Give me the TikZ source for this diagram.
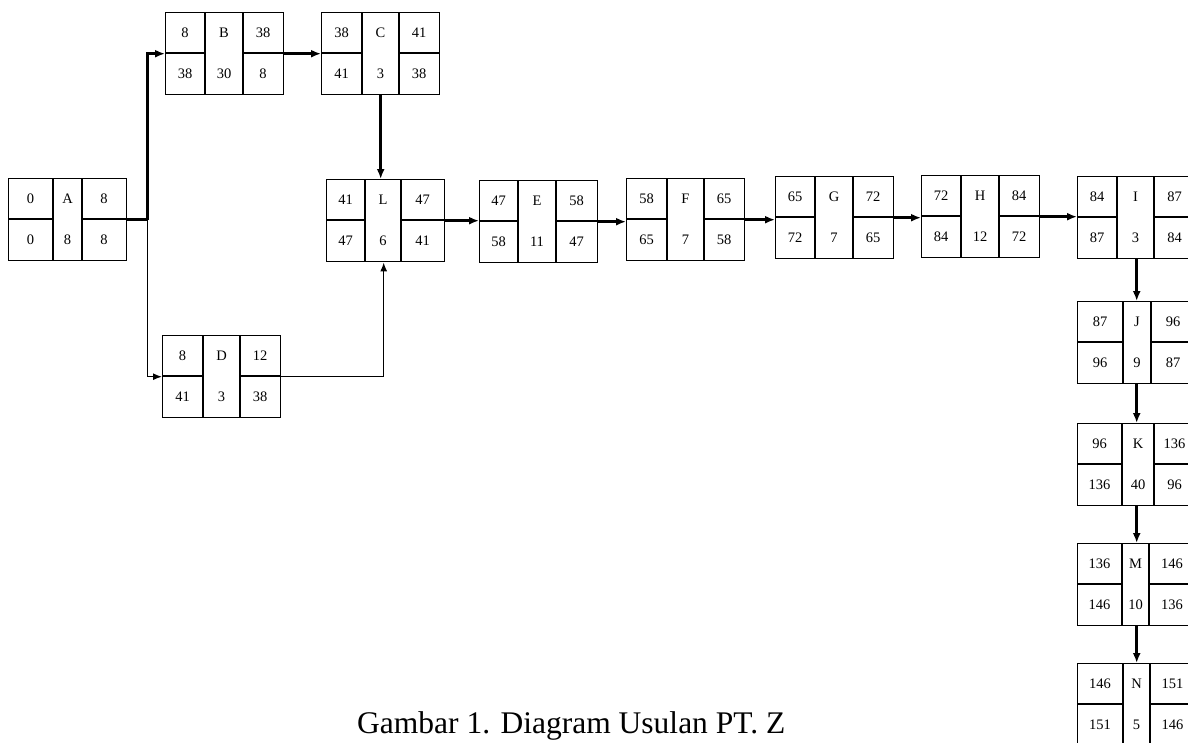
\documentclass[tikz,border=0pt]{standalone}
\usepackage{fontspec}
\setmainfont{Liberation Serif}
\usetikzlibrary{arrows.meta,calc}
\def\bw{118}\def\bh{82}\def\dA{40}\def\dB{77}
\tikzset{
  box/.style={draw, line width=1.4pt, anchor=north west, minimum width=\bw pt, minimum height=\bh pt, inner sep=0pt},
  cell/.style={line width=1.3pt},
  lab/.style={font=\fontsize{14.5}{16}\selectfont, inner sep=0pt},
  crit/.style={line width=2.8pt, -{Latex[length=10pt,width=8pt]}},
  critline/.style={line width=2.8pt},
  noncrit/.style={line width=1.3pt, -{Latex[length=9pt,width=7pt]}},
}
\newcommand\actbox[8]{%
\begin{scope}[shift={(#2)}]
\node[box] (#1) at (0,0) {};
\draw[cell] (\dA,0) -- (\dA,\bh) (\dB,0) -- (\dB,\bh) (0,\bh/2) -- (\dA,\bh/2) (\dB,\bh/2) -- (\bw,\bh/2);
\node[lab] (#1-es) at (\dA/2,\bh/4) {#3};
\node[lab] (#1-n) at ({(\dA+\dB)/2},\bh/4) {#4};
\node[lab] (#1-ef) at ({(\dB+\bw)/2},\bh/4) {#5};
\node[lab] (#1-ls) at (\dA/2,3*\bh/4) {#6};
\node[lab] (#1-d) at ({(\dA+\dB)/2},3*\bh/4) {#7};
\node[lab] (#1-lf) at ({(\dB+\bw)/2},3*\bh/4) {#8};
\end{scope}}
\begin{document}
\begin{tikzpicture}[x=1pt,y=-1pt]
\useasboundingbox[fill=white] (0,0) rectangle (1188,742);
\def\dA{45}\def\dB{74}
\actbox{A}{8,178}{0}{A}{8}{0}{8}{8}
\def\dA{40}\def\dB{78}
\actbox{B}{165,12}{8}{B}{38}{38}{30}{8}
\def\dA{41}\def\dB{78}
\actbox{C}{321,12}{38}{C}{41}{41}{3}{38}
\actbox{D}{162,335}{8}{D}{12}{41}{3}{38}
\def\dA{39}\def\dB{75}
\actbox{L}{326,179}{41}{L}{47}{47}{6}{41}
\def\dA{39}\def\dB{77}
\actbox{E}{479,180}{47}{E}{58}{58}{11}{47}
\def\dA{41}\def\dB{78}
\actbox{F}{626,178}{58}{F}{65}{65}{7}{58}
\def\dA{40}\def\dB{78}
\actbox{G}{775,176}{65}{G}{72}{72}{7}{65}
\actbox{H}{921,175}{72}{H}{84}{84}{12}{72}
\def\dA{40}\def\dB{77}
\actbox{I}{1077,176}{84}{I}{87}{87}{3}{84}
\def\dA{46}\def\dB{74}
\actbox{J}{1077,301}{87}{J}{96}{96}{9}{87}
\def\dA{45}\def\dB{77}
\actbox{K}{1077,423}{96}{K}{136}{136}{40}{96}
\def\dA{45}\def\dB{72}
\actbox{M}{1077,543}{136}{M}{146}{146}{10}{136}
\def\dA{46}\def\dB{73}
\actbox{N}{1077,663}{146}{N}{151}{151}{5}{146}
% connectors
\coordinate (split) at ($(A.east)+(20,0)$);
\draw[critline] (A.east) -- (split);
\draw[crit] (split) |- (B.west);
\draw[noncrit] (split) |- (D.west);
\draw[crit] (B.east) -- (B.east -| C.west);
\draw[crit] (C.south) -- (C.south |- L.north);
\draw[noncrit] (D.east) -| ($(L.south)+(-2,0)$);
\draw[crit] (L.east) -- (L.east -| E.west);
\draw[crit] (E.east) -- (E.east -| F.west);
\draw[crit] (F.east) -- (F.east -| G.west);
\draw[crit] (G.east) -- (G.east -| H.west);
\draw[crit] (H.east) -- (H.east -| I.west);
\draw[crit] (I.south) -- (I.south |- J.north);
\draw[crit] (J.south) -- (J.south |- K.north);
\draw[crit] (K.south) -- (K.south |- M.north);
\draw[crit] (M.south) -- (M.south |- N.north);
\node[font=\fontsize{31.5}{36}\selectfont, anchor=base west, inner sep=0pt] (cap) at (357,733) {Gambar 1. Diagram Usulan PT. Z};
\end{tikzpicture}
\end{document}
